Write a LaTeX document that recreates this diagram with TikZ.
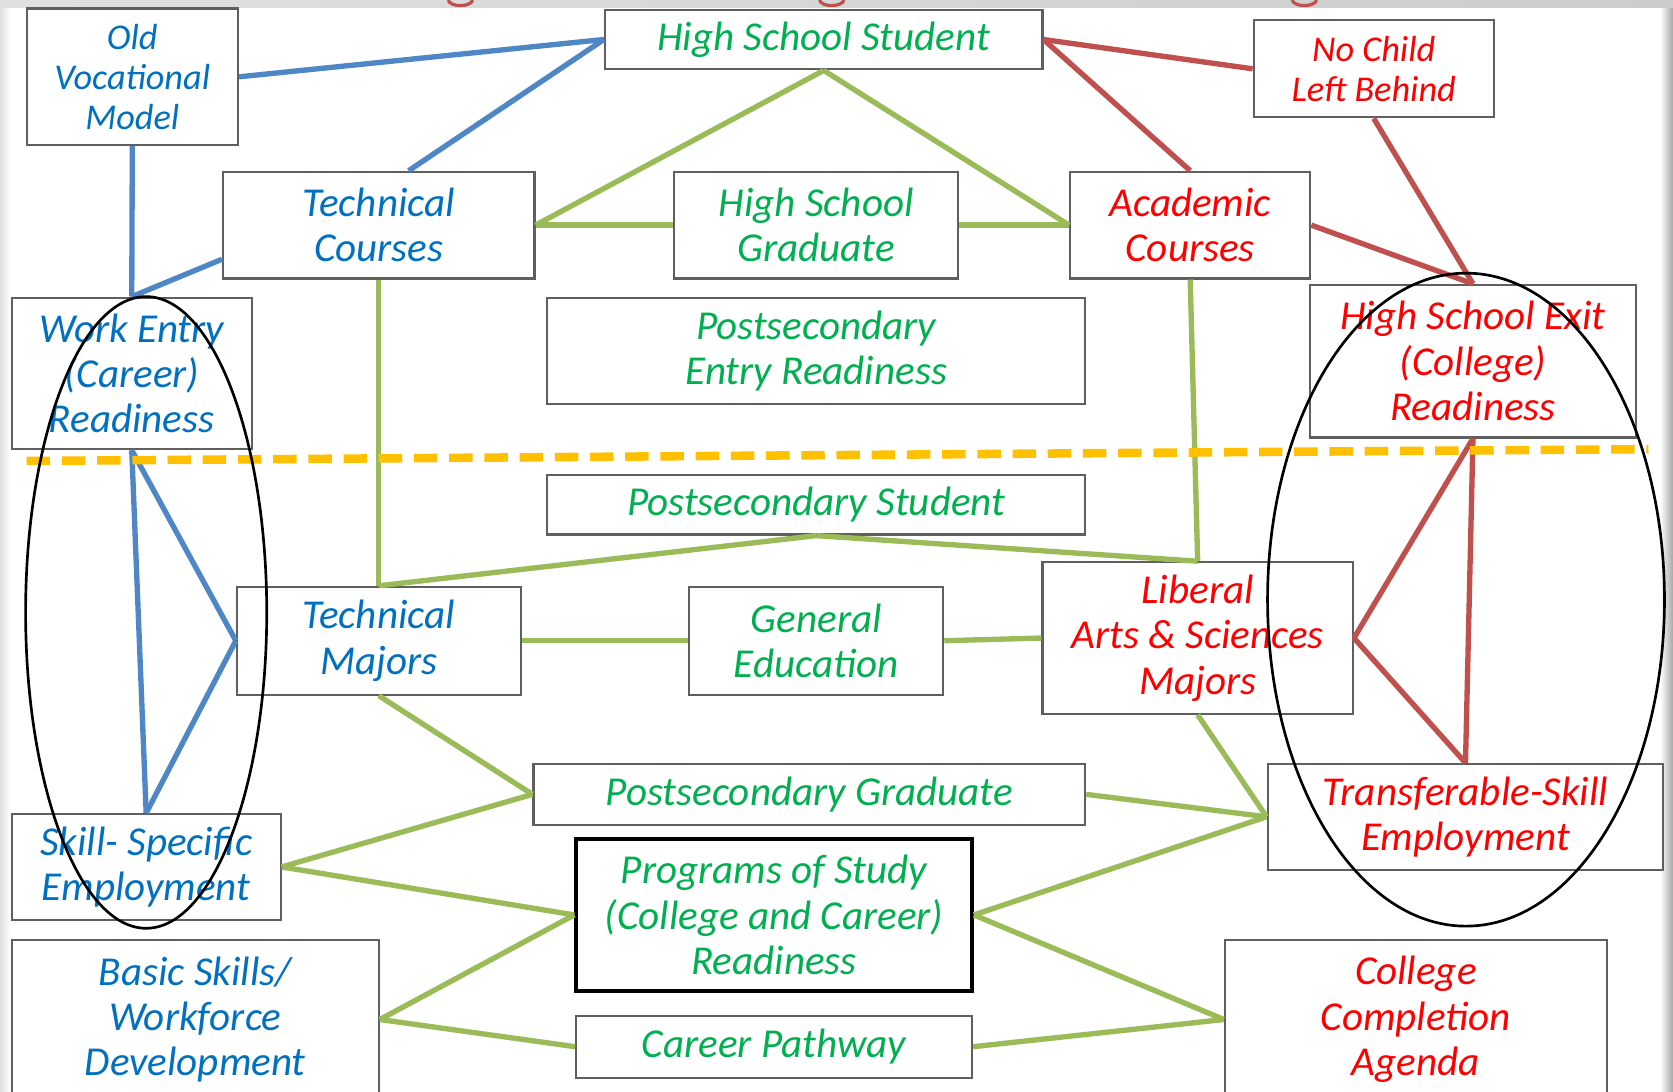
\documentclass[tikz,border=0pt]{standalone}
\usepackage{fontspec}
\setmainfont{Carlito}
\usetikzlibrary{calc}
\definecolor{tblue}{RGB}{0,112,192}
\definecolor{tgreen}{RGB}{0,176,80}
\definecolor{tred}{RGB}{255,0,0}
\definecolor{lblue}{RGB}{79,134,198}
\definecolor{lgreen}{RGB}{155,187,89}
\definecolor{lred}{RGB}{192,80,77}
\definecolor{dyellow}{RGB}{255,192,0}
\definecolor{bordergray}{RGB}{95,95,95}
\begin{document}
\begin{tikzpicture}[x=1pt,y=-1pt,
 box/.style={draw=bordergray, line width=2pt, fill=white, inner sep=0pt, align=center, font=\fontsize{38.5}{42.5}\selectfont\itshape},
 smallfont/.style={font=\fontsize{34}{37.5}\selectfont\itshape},
 bt/.style={text=tblue}, gt/.style={text=tgreen}, rt/.style={text=tred},
 bl/.style={draw=lblue, line width=5pt},
 gl/.style={draw=lgreen, line width=5pt},
 rl/.style={draw=lred, line width=5pt},
 oval/.style={draw=black, line width=2.5pt},
 divider/.style={draw=dyellow, line width=8pt, dash pattern=on 22pt off 11pt},
 tail/.style={draw=lred, line width=3pt}
]
\useasboundingbox (0,0) rectangle (1568,1023);
\fill[white] (0,0) rectangle (1568,1023);
\shade[left color=black!12, right color=white] (0,0) rectangle (10,1023);
\shade[left color=white, right color=black!35] (1556,0) rectangle (1568,1023);
\shade[left color=black!12, right color=black!20] (0,0) rectangle (1568,7);
% cropped title descenders
\draw[tail] (420,0) .. controls (422,7) and (441,7) .. (443,0);
\draw[tail] (768,0) .. controls (770,7) and (789,7) .. (791,0);
\draw[tail] (1211,0) .. controls (1213,7) and (1232,7) .. (1234,0);

% boxes
\node[box, bt, smallfont, minimum width=198pt, minimum height=128pt] (ovm) at (124,72) {Old\\Vocational\\Model};
\node[box, gt, minimum width=410pt, minimum height=56pt] (hss) at (772,37) {High School Student};
\node[box, rt, smallfont, minimum width=225pt, minimum height=91pt] (ncl) at (1287.5,64.5) {No Child\\Left Behind};
\node[box, bt, minimum width=292pt, minimum height=100pt] (tc) at (355,211) {Technical\\Courses};
\node[box, gt, minimum width=266pt, minimum height=100pt] (hsg) at (765,211) {High School\\Graduate};
\node[box, rt, minimum width=225pt, minimum height=100pt] (ac) at (1115.5,211) {Academic\\Courses};
\node[box, bt, minimum width=225pt, minimum height=142pt] (we) at (123.5,350) {Work Entry\\(Career)\\Readiness};
\node[box, gt, minimum width=504pt, minimum height=100pt] (per) at (765,329) {Postsecondary\\Entry Readiness};
\node[box, rt, minimum width=305pt, minimum height=143pt] (hse) at (1380.5,338.5) {High School Exit\\(College)\\Readiness};
\node[box, gt, minimum width=504pt, minimum height=56pt] (ps) at (765,473) {Postsecondary Student};
\node[box, bt, minimum width=266pt, minimum height=101pt] (tm) at (355,600.5) {Technical\\Majors};
\node[box, gt, minimum width=238pt, minimum height=101pt] (ge) at (765,600.5) {General\\Education};
\node[box, rt, minimum width=291pt, minimum height=142pt] (la) at (1122.5,598) {Liberal\\Arts \& Sciences\\Majors};
\node[box, gt, minimum width=517pt, minimum height=57pt] (pg) at (758.5,744.5) {Postsecondary Graduate};
\node[box, rt, minimum width=371pt, minimum height=99pt] (tse) at (1373.5,765.5) {Transferable-Skill\\Employment};
\node[box, bt, minimum width=252pt, minimum height=99pt] (ss) at (137,812.5) {Skill- Specific\\Employment};
\node[box, gt, draw=black, line width=3.5pt, minimum width=371pt, minimum height=143pt] (pos) at (725.5,857.5) {Programs of Study\\(College and Career)\\Readiness};
\node[box, bt, minimum width=344pt, minimum height=149pt] (bs) at (183,955.5) {Basic Skills/\\Workforce\\Development};
\node[box, gt, minimum width=371pt, minimum height=58pt] (cp) at (725.5,981) {Career Pathway};
\node[box, rt, minimum width=358pt, minimum height=149pt] (cca) at (1327,955.5) {College\\Completion\\Agenda};

% blue connectors
\draw[bl] (ovm.east) -- (hss.west);
\draw[bl] ([xshift=28pt]tc.north) -- (hss.west);
\draw[bl] (ovm.south) -- (we.north);
\draw[bl] ([yshift=-32pt]tc.west) -- (we.north);
\draw[bl] (we.south) -- (tm.west);
\draw[bl] (we.south) -- (ss.north);
\draw[bl] (tm.west) -- (ss.north);

% green connectors
\draw[gl] (hss.south) -- (tc.east);
\draw[gl] (hss.south) -- (ac.west);
\draw[gl] (tc.east) -- (hsg.west);
\draw[gl] (hsg.east) -- (ac.west);
\draw[gl] (tc.south) -- (tm.north);
\draw[gl] (ac.south) -- (la.north);
\draw[gl] (ps.south) -- (tm.north);
\draw[gl] (ps.south) -- (la.north);
\draw[gl] (tm.east) -- (ge.west);
\draw[gl] (ge.east) -- (la.west);
\draw[gl] (tm.south) -- (pg.west);
\draw[gl] (ss.east) -- (pg.west);
\draw[gl] (ss.east) -- (pos.west);
\draw[gl] (la.south) -- (tse.west);
\draw[gl] (pg.east) -- (tse.west);
\draw[gl] (pos.east) -- (tse.west);
\draw[gl] (pos.east) -- (cca.west);
\draw[gl] (bs.east) -- (pos.west);
\draw[gl] (bs.east) -- (cp.west);
\draw[gl] (cp.east) -- (cca.west);

% red connectors
\draw[rl] (hss.east) -- (ncl.west);
\draw[rl] (hss.east) -- (ac.north);
\draw[rl] (ncl.south) -- (hse.north);
\draw[rl] (ac.east) -- (hse.north);
\draw[rl] (hse.south) -- (la.east);
\draw[rl] (hse.south) -- (tse.north);
\draw[rl] (la.east) -- (tse.north);

% divider and ovals
\coordinate (dl) at (25,432);
\coordinate (dr) at (1545,421);
\draw[divider] (dl) -- (dr);
\draw[oval] (137,574) ellipse [x radius=113, y radius=296];
\draw[oval] (1374,562) ellipse [x radius=186, y radius=306];
\end{tikzpicture}
\end{document}
